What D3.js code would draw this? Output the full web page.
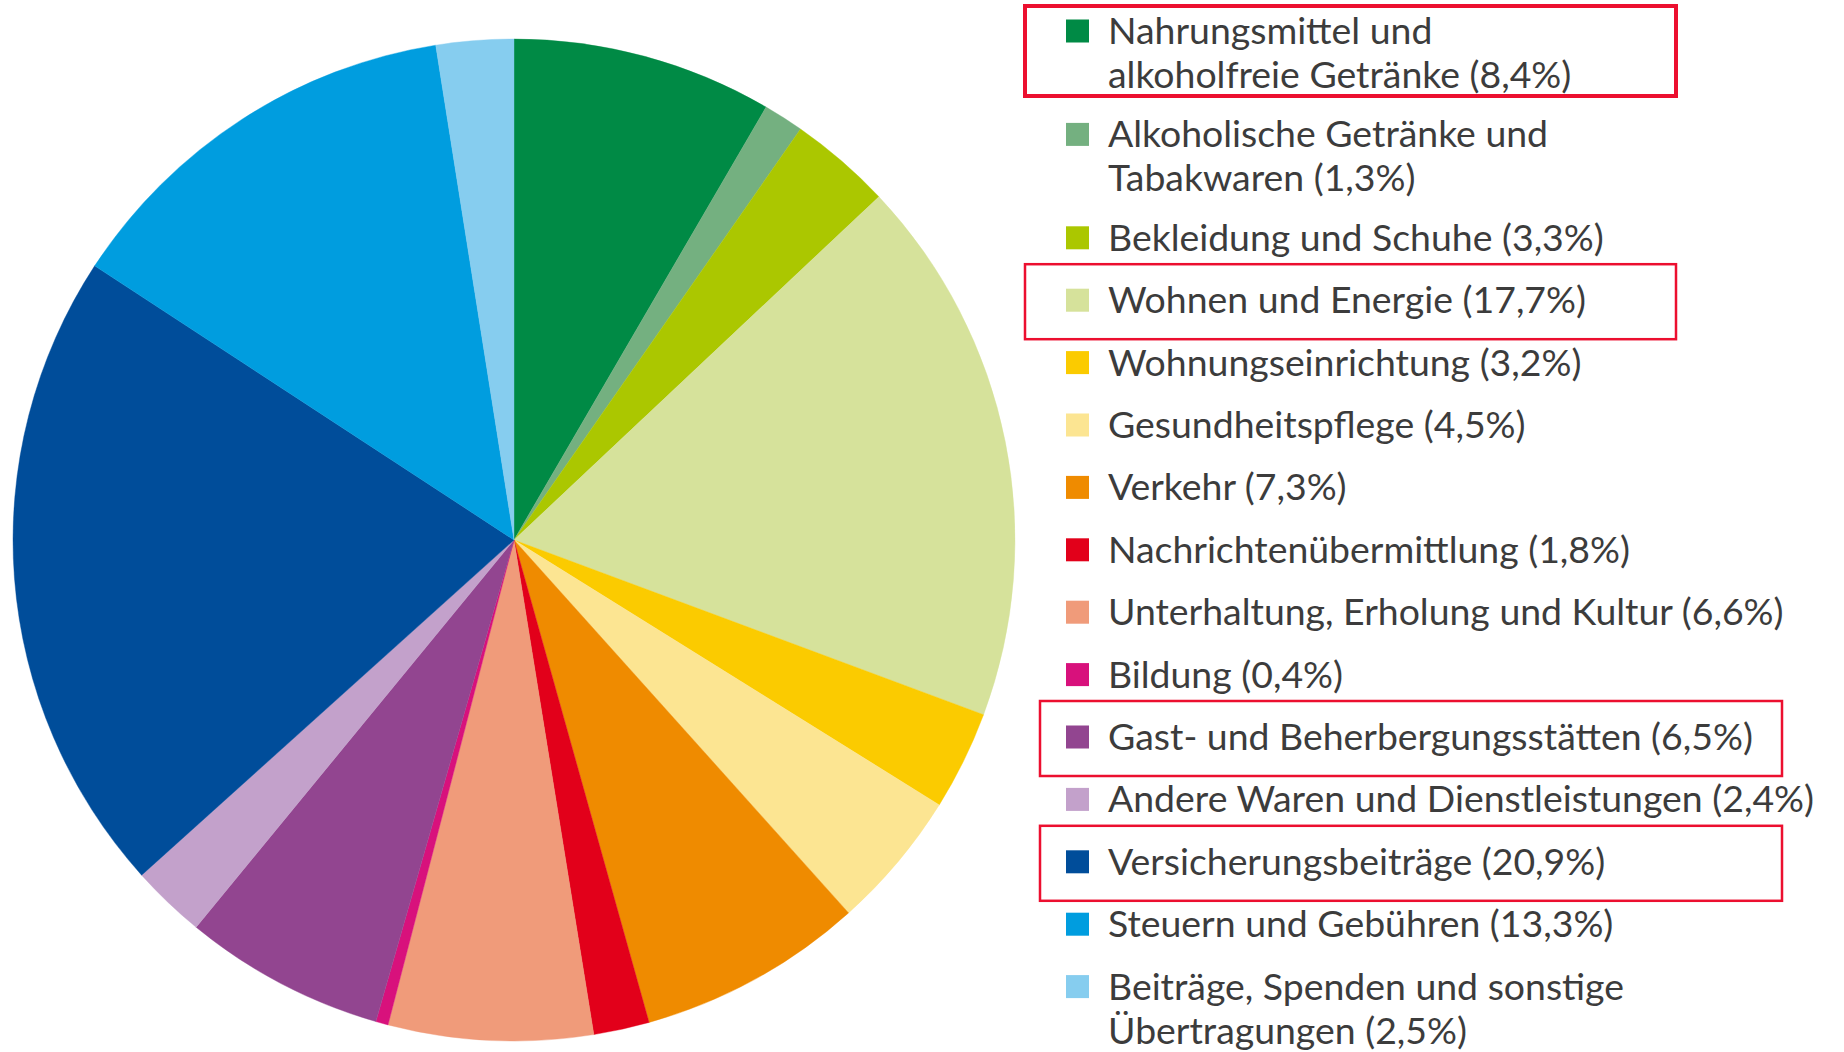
<!DOCTYPE html>
<html lang="de">
<head>
<meta charset="utf-8">
<script src="https://cdn.jsdelivr.net/npm/d3@7"></script>
<style>
  html, body { margin: 0; padding: 0; background: #ffffff; }
  svg { display: block; }
  .legend text { font-family: Lato, "Open Sans", sans-serif; fill: #3c3c3c; }
</style>
</head>
<body>
<div class="container-viewer"></div>
<script>
//* DATOS *//
// categorias (con salto de linea donde la leyenda parte el texto)
const categories = [
  'Nahrungsmittel und\nalkoholfreie Getränke',
  'Alkoholische Getränke und\nTabakwaren',
  'Bekleidung und Schuhe',
  'Wohnen und Energie',
  'Wohnungseinrichtung',
  'Gesundheitspflege',
  'Verkehr',
  'Nachrichtenübermittlung',
  'Unterhaltung, Erholung und Kultur',
  'Bildung',
  'Gast- und Beherbergungsstätten',
  'Andere Waren und Dienstleistungen',
  'Versicherungsbeiträge',
  'Steuern und Gebühren',
  'Beiträge, Spenden und sonstige\nÜbertragungen'
];
// porcentajes
const values = [8.4, 1.3, 3.3, 17.7, 3.2, 4.5, 7.3, 1.8, 6.6, 0.4, 6.5, 2.4, 20.9, 13.3, 2.5];
const colors = [
  '#008a45', '#74b080', '#abc700', '#d6e29b', '#fbcb00', '#fce592', '#ef8b00',
  '#e2001a', '#f09b7a', '#d8117c', '#924590', '#c3a1cb', '#004d9a', '#009ddf', '#86cdef'
];
// entradas marcadas con marco rojo
const highlighted = [0, 3, 10, 12];

//* DIBUJO *//
const width = 1844, height = 1052;
const cx = 514, cy = 540, radius = 501;

const svg = d3.select('.container-viewer').append('svg')
  .attr('width', width).attr('height', height);

const data = categories.map((c, i) => ({ name: c, value: values[i], color: colors[i], i }));

// tarta, empezando arriba y en sentido horario, sin ordenar
const pie = d3.pie().sort(null).value(d => d.value).startAngle(0).endAngle(2 * Math.PI);
const arc = d3.arc().innerRadius(0).outerRadius(radius);

svg.append('g')
  .attr('transform', `translate(${cx},${cy})`)
  .selectAll('path')
  .data(pie(data))
  .join('path')
  .attr('d', arc)
  .attr('fill', d => d.data.color)
  .attr('stroke', d => d.data.color)
  .attr('stroke-width', 0.4);

// leyenda
const fmt = v => v.toFixed(1).replace('.', ',') + '%';
const legend = svg.append('g').attr('class', 'legend');
const swX = 1066, sw = 23, textX = 1108, fontSize = 37.4;
const step = 62.4, extraLine = 41;

let y = 31;
data.forEach(d => {
  const lines = d.name.split('\n');
  lines[lines.length - 1] += ` (${fmt(d.value)})`;
  d.cy = y;
  d.lines = lines.length;

  legend.append('rect')
    .attr('x', swX).attr('y', y - sw / 2)
    .attr('width', sw).attr('height', sw)
    .attr('fill', d.color);

  const t = legend.append('text')
    .attr('x', textX).attr('y', y + 13)
    .attr('font-size', fontSize);
  lines.forEach((l, k) => {
    t.append('tspan').attr('x', textX).attr('dy', k === 0 ? 0 : 44).text(l);
  });

  y += step + (lines.length - 1) * extraLine;
});

// marcos rojos
const frameX = { 0: [1025, 1676], 3: [1025, 1676], 10: [1040, 1782], 12: [1040, 1782] };
highlighted.forEach(i => {
  const d = data[i];
  const top = d.lines > 1 ? d.cy - 25 : d.cy - 36;
  const bottom = d.lines > 1 ? d.cy + 65 : d.cy + 39;
  svg.append('rect')
    .attr('x', frameX[i][0]).attr('y', top)
    .attr('width', frameX[i][1] - frameX[i][0]).attr('height', bottom - top)
    .attr('fill', 'none')
    .attr('stroke', '#ec0f2f')
    .attr('stroke-width', i === 0 ? 4 : 2.5);
});
</script>
</body>
</html>
